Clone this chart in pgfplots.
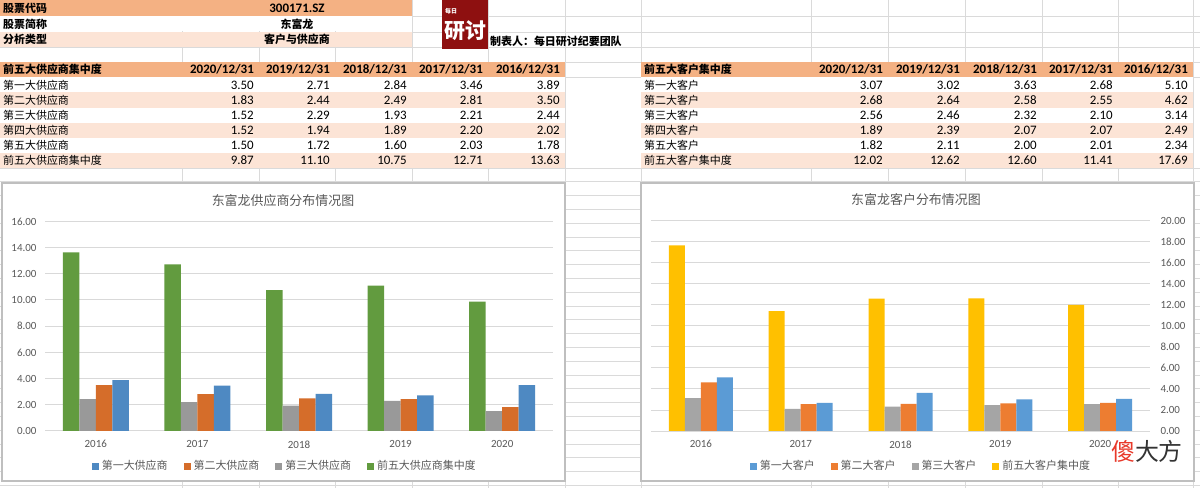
\documentclass[border=0pt]{standalone}
\usepackage{fontspec}
\setmainfont{Carlito}
\newfontfamily\cjk{Noto Sans CJK SC}
\usepackage{pgfplots}
\pgfplotsset{compat=1.18}
\definecolor{hdr}{HTML}{F4B183}
\definecolor{lite}{HTML}{FCE4D6}
\definecolor{gridc}{HTML}{D9D9D9}
\definecolor{sheetc}{HTML}{DADADA}
\definecolor{txt}{HTML}{595959}
\definecolor{framec}{HTML}{BFBFBF}
\definecolor{lblue}{HTML}{4E89C2}
\definecolor{lorange}{HTML}{D56D2A}
\definecolor{lgray}{HTML}{999999}
\definecolor{lgreen}{HTML}{629B3F}
\definecolor{rblue}{HTML}{5B9BD5}
\definecolor{rorange}{HTML}{ED7D31}
\definecolor{rgray}{HTML}{A5A5A5}
\definecolor{ryellow}{HTML}{FFC000}
\definecolor{logored}{HTML}{8E1010}
\definecolor{wmred}{HTML}{E8392A}
\pgfplotsset{
  sq/.style={legend image code/.code={\fill[##1] (0bp,-3.5bp) rectangle (7bp,3.5bp);}},
  xlsbar/.style={
    scale only axis, anchor=south west,
    xmin=-0.5, xmax=4.5, ymin=0,
    xtick={0,...,4}, xticklabels={2016,2017,2018,2019,2020},
    axis line style={draw=none}, major tick length=0pt,
    ymajorgrids, grid style={gridc, line width=1bp},
    ybar=0pt,
    yticklabel={\pgfmathprintnumber[fixed,fixed zerofill,precision=2,assume math mode=true]{\tick}},
    ticklabel style={font=\fontsize{11}{13}\selectfont, text=txt},
    xticklabel style={yshift=-6bp},
    legend style={draw=none, fill=none, font=\cjk\fontsize{11}{13}\selectfont, text=txt,
      legend columns=-1,
      /tikz/every odd column/.append style={column sep=1bp},
      /tikz/every even column/.append style={column sep=14bp}},
    reverse legend,
  }
}
\begin{document}
\begin{tikzpicture}
\useasboundingbox (0,0) rectangle (1200bp,488bp);
\begin{scope}[yshift=488bp,x=1bp,y=-1bp,
  lab/.style={anchor=west, inner sep=0, font=\cjk\fontsize{11}{13}\selectfont},
  blab/.style={anchor=west, inner sep=0, font=\cjk\bfseries\fontsize{11}{13}\selectfont},
  num/.style={anchor=east, inner sep=0, font=\fontsize{13}{15}\selectfont},
  bnum/.style={anchor=east, inner sep=0, font=\bfseries\fontsize{13}{15}\selectfont}]
  % sheet grid
  \foreach \x in {182,259,335,412,488,565,641,811,888,965,1042,1118,1193}
    \draw[sheetc, line width=0.8bp] (\x,0) -- (\x,488);
  \foreach \y in {16,32,47,62,77,168}
    \draw[sheetc, line width=0.8bp] (0,\y) -- (1200,\y);
  \foreach \k in {1,...,23}
    \draw[sheetc, line width=0.8bp] (0,{168+13.8*\k}) -- (1200,{168+13.8*\k});
  % top block
  \fill[hdr] (0,0) rectangle (412,16);
  \fill[white] (0,16.5) rectangle (412,31.5);
  \fill[lite] (0,32) rectangle (412,47);
  \node[blab] at (3,8) {股票代码};
  \node[font=\bfseries\fontsize{13}{15}\selectfont, inner sep=0] at (297,8) {300171.SZ};
  \node[blab] at (3,24) {股票简称};
  \node[font=\cjk\bfseries\fontsize{11}{13}\selectfont, inner sep=0] at (297,24) {东富龙};
  \node[blab] at (3,39.5) {分析类型};
  \node[font=\cjk\bfseries\fontsize{11}{13}\selectfont, inner sep=0] at (297,39.5) {客户与供应商};
  % logo
  \fill[logored] (442,0) rectangle (488,49);
  \node[anchor=west, inner sep=0, text=white, font=\cjk\bfseries\fontsize{6}{7}\selectfont] at (445,11) {每日};
  \node[inner sep=0, text=white, font=\cjk\bfseries\fontsize{21}{23}\selectfont] at (465,31) {研讨};
  \node[anchor=west, inner sep=0, font=\cjk\bfseries\fontsize{11}{13}\selectfont] at (490,41) {制表人：每日研讨纪要团队};
  % left table
  \fill[white] (0,62) rectangle (565,168);
  \fill[hdr] (0,62) rectangle (565,77);
  \fill[lite] (0,92.5) rectangle (565,108);
  \fill[lite] (0,123) rectangle (565,138);
  \fill[lite] (0,153) rectangle (565,168);
  \node[blab] at (3,69.5) {前五大供应商集中度};
  \node[bnum] at (254,69.5) {2020/12/31};
  \node[bnum] at (330,69.5) {2019/12/31};
  \node[bnum] at (407,69.5) {2018/12/31};
  \node[bnum] at (483,69.5) {2017/12/31};
  \node[bnum] at (560,69.5) {2016/12/31};
  \foreach \yy/\lab/\a/\b/\c/\d/\e in {
     85/第一大供应商/3.50/2.71/2.84/3.46/3.89,
     100/第二大供应商/1.83/2.44/2.49/2.81/3.50,
     115.5/第三大供应商/1.52/2.29/1.93/2.21/2.44,
     130.5/第四大供应商/1.52/1.94/1.89/2.20/2.02,
     145.5/第五大供应商/1.50/1.72/1.60/2.03/1.78,
     160.5/前五大供应商集中度/9.87/11.10/10.75/12.71/13.63}{
    \node[lab] at (3,\yy) {\lab};
    \node[num] at (254,\yy) {\a};
    \node[num] at (330,\yy) {\b};
    \node[num] at (407,\yy) {\c};
    \node[num] at (483,\yy) {\d};
    \node[num] at (560,\yy) {\e};
  }
  % right table
  \fill[white] (641,62) rectangle (1193,168);
  \fill[hdr] (641,62) rectangle (1193,77);
  \fill[lite] (641,92.5) rectangle (1193,108);
  \fill[lite] (641,123) rectangle (1193,138);
  \fill[lite] (641,153) rectangle (1193,168);
  \node[blab] at (644,69.5) {前五大客户集中度};
  \node[bnum] at (883,69.5) {2020/12/31};
  \node[bnum] at (960,69.5) {2019/12/31};
  \node[bnum] at (1037,69.5) {2018/12/31};
  \node[bnum] at (1113,69.5) {2017/12/31};
  \node[bnum] at (1188,69.5) {2016/12/31};
  \foreach \yy/\lab/\a/\b/\c/\d/\e in {
     85/第一大客户/3.07/3.02/3.63/2.68/5.10,
     100/第二大客户/2.68/2.64/2.58/2.55/4.62,
     115.5/第三大客户/2.56/2.46/2.32/2.10/3.14,
     130.5/第四大客户/1.89/2.39/2.07/2.07/2.49,
     145.5/第五大客户/1.82/2.11/2.00/2.01/2.34,
     160.5/前五大客户集中度/12.02/12.62/12.60/11.41/17.69}{
    \node[lab] at (644,\yy) {\lab};
    \node[num] at (883,\yy) {\a};
    \node[num] at (960,\yy) {\b};
    \node[num] at (1037,\yy) {\c};
    \node[num] at (1113,\yy) {\d};
    \node[num] at (1188,\yy) {\e};
  }
  % chart frames
  \draw[framec, fill=white, line width=1.2bp] (2,183) rectangle (565,481);
  \draw[framec, fill=white, line width=1.2bp] (641,183) rectangle (1194,481);
  \node[font=\cjk\fontsize{13}{15}\selectfont, text=txt] at (283,201) {东富龙供应商分布情况图};
  \node[font=\cjk\fontsize{13}{15}\selectfont, text=txt] at (916,200) {东富龙客户分布情况图};
\end{scope}

% left chart
\begin{axis}[xlsbar, at={(45bp,57bp)}, width=508bp, height=209.6bp,
  ymax=16, ytick={0,2,...,16}, bar width=16.5bp,
  yticklabel style={anchor=east, xshift=-5bp},
  legend style={at={(0.472,-0.167)}, anchor=center}]
\addplot[fill=lgreen, draw=none, sq] coordinates {(0,13.63) (1,12.71) (2,10.75) (3,11.10) (4,9.87)};
\addlegendentry{前五大供应商集中度}
\addplot[fill=lgray, draw=none, sq] coordinates {(0,2.44) (1,2.21) (2,1.93) (3,2.29) (4,1.52)};
\addlegendentry{第三大供应商}
\addplot[fill=lorange, draw=none, sq] coordinates {(0,3.50) (1,2.81) (2,2.49) (3,2.44) (4,1.83)};
\addlegendentry{第二大供应商}
\addplot[fill=lblue, draw=none, sq] coordinates {(0,3.89) (1,3.46) (2,2.84) (3,2.71) (4,3.50)};
\addlegendentry{第一大供应商}
\end{axis}

% right chart
\begin{axis}[xlsbar, at={(651bp,57bp)}, width=499bp, height=210bp,
  ymax=20, ytick={0,2,...,20}, bar width=16bp,
  yticklabel pos=right,
  yticklabel style={anchor=west, xshift=7bp},
  legend style={at={(0.541,-0.167)}, anchor=center}]
\addplot[fill=ryellow, draw=none, sq] coordinates {(0,17.69) (1,11.41) (2,12.60) (3,12.62) (4,12.02)};
\addlegendentry{前五大客户集中度}
\addplot[fill=rgray, draw=none, sq] coordinates {(0,3.14) (1,2.10) (2,2.32) (3,2.46) (4,2.56)};
\addlegendentry{第三大客户}
\addplot[fill=rorange, draw=none, sq] coordinates {(0,4.62) (1,2.55) (2,2.58) (3,2.64) (4,2.68)};
\addlegendentry{第二大客户}
\addplot[fill=rblue, draw=none, sq] coordinates {(0,5.10) (1,2.68) (2,3.63) (3,3.02) (4,3.07)};
\addlegendentry{第一大客户}
\end{axis}

% watermark
\node[inner sep=0, font=\cjk\fontsize{24}{26}\selectfont] at (1147bp,37bp) {\textcolor{wmred}{傻}\textcolor[HTML]{333333}{大方}};
\end{tikzpicture}
\end{document}
